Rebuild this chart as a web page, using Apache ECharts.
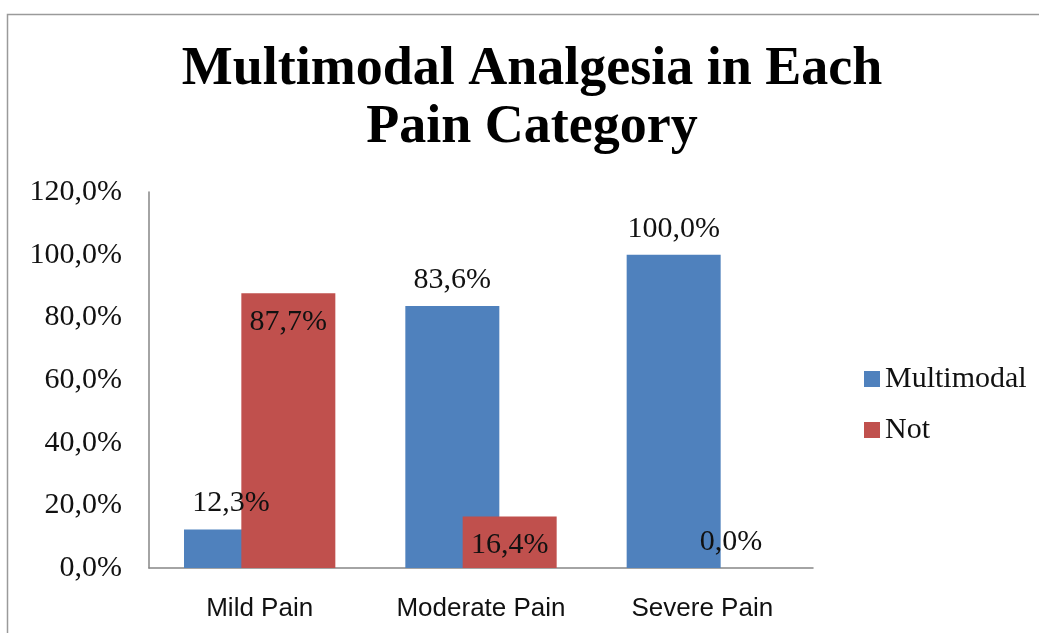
<!DOCTYPE html>
<html>
<head>
<meta charset="utf-8">
<script src="https://cdn.jsdelivr.net/npm/echarts@6/dist/echarts.min.js"></script>
<style>
html,body{margin:0;padding:0;background:#fff;}
#chart{width:1039px;height:633px;}
</style>
</head>
<body>
<div id="chart"></div>
<script>
const categories = ['Mild Pain', 'Moderate Pain', 'Severe Pain'];
const seriesNames = ['Multimodal', 'Not'];
const multimodal = [12.3, 83.6, 100.0];
const notMultimodal = [87.7, 16.4, 0.0];
const titleLines = ['Multimodal Analgesia in Each', 'Pain Category'];

const SERIF = '"Liberation Serif", "DejaVu Serif", serif';
const SANS = '"Liberation Sans", Arial, sans-serif';
const fmt = v => v.toFixed(1).replace('.', ',') + '%';

const chart = echarts.init(document.getElementById('chart'), null, {renderer: 'canvas'});

const labelBase = {
  show: true,
  color: '#111',
  fontFamily: SERIF,
  fontSize: 30,
  formatter: p => fmt(p.value)
};

const notData = notMultimodal.map(v => v === 0
  ? {value: v, label: {position: 'top', distance: 11}}
  : {value: v});

chart.setOption({
  animation: false,
  backgroundColor: '#fff',
  graphic: [
    {type: 'rect', left: 5, top: 12, shape: {width: 1100, height: 700},
     style: {fill: 'none', stroke: '#9a9a9a', lineWidth: 1.5}, silent: true},
    {type: 'text', x: 532, y: 70, style: {text: titleLines[0], textAlign: 'center', textVerticalAlign: 'middle',
      font: 'bold 54px ' + SERIF, fill: '#000'}},
    {type: 'text', x: 532, y: 128, style: {text: titleLines[1], textAlign: 'center', textVerticalAlign: 'middle',
      font: 'bold 54px ' + SERIF, fill: '#000'}}
  ],
  legend: {
    orient: 'vertical',
    left: 859,
    top: 359,
    itemWidth: 16,
    itemHeight: 16,
    itemGap: 21,
    icon: 'rect',
    data: seriesNames,
    textStyle: {fontFamily: SERIF, fontSize: 30, color: '#111'}
  },
  grid: {left: 149, right: 226, top: 192, bottom: 65},
  xAxis: {
    type: 'category',
    data: categories,
    axisLine: {lineStyle: {color: '#868686', width: 1.5}},
    axisTick: {show: false},
    axisLabel: {fontFamily: SANS, fontSize: 26, color: '#111', margin: 28}
  },
  yAxis: {
    type: 'value',
    min: 0, max: 120, interval: 20,
    axisLine: {show: true, lineStyle: {color: '#868686', width: 1.5}},
    axisTick: {show: false},
    splitLine: {show: false},
    axisLabel: {fontFamily: SERIF, fontSize: 30, color: '#111', margin: 27, formatter: v => fmt(v)}
  },
  series: [
    {name: seriesNames[0], type: 'bar', data: multimodal, barWidth: 94, barGap: '-39%',
     itemStyle: {color: '#4F81BD'},
     label: Object.assign({}, labelBase, {position: 'top', distance: 11})},
    {name: seriesNames[1], type: 'bar', data: notData, barWidth: 94, barGap: '-39%',
     itemStyle: {color: '#C0504D'},
     label: Object.assign({}, labelBase, {position: 'insideTop', distance: 14})}
  ]
});
</script>
</body>
</html>
